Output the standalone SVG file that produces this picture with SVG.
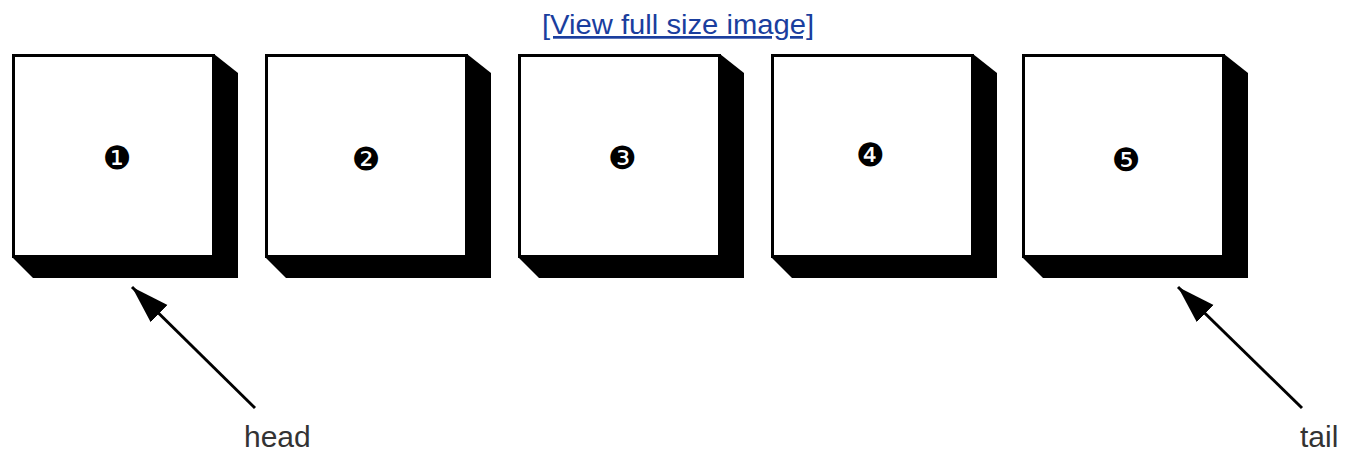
<svg xmlns="http://www.w3.org/2000/svg" width="1346" height="455" viewBox="0 0 1346 455">
<style>
.face{fill:#fff;stroke:#000;stroke-width:3}
.shadow{fill:#000}
.num{font-family:"DejaVu Sans",sans-serif;font-size:32px;text-anchor:middle;fill:#000}
.lbl{font-family:"Liberation Sans",Arial,sans-serif;font-size:30px;fill:#333}
.link{font-family:"Liberation Sans",Arial,sans-serif;font-size:27px;fill:#1a3e9e;text-decoration:underline;text-anchor:middle}
.conn{stroke:#000;stroke-width:3;fill:none}
</style>
<defs>
<marker id="ah" markerUnits="userSpaceOnUse" viewBox="0 -13 40 26" refX="38" refY="0" markerWidth="40" markerHeight="26" orient="auto">
<path d="M0,-12 L38,0 L0,12 Z" fill="#000"/>
</marker>
</defs>
<rect width="1346" height="455" fill="#fff"/>
<text class="link" x="678" y="34" textLength="272" lengthAdjust="spacingAndGlyphs">[View full size image]</text>
<g id="node1">
<polygon class="shadow" points="214,54 238,73 238,278 33,278 12,257"/>
<rect class="face" x="13.5" y="55.5" width="200" height="201"/>
<text class="num" x="117" y="169">❶</text>
</g>
<g id="node2">
<polygon class="shadow" points="467,54 491,73 491,278 286,278 265,257"/>
<rect class="face" x="266.5" y="55.5" width="200" height="201"/>
<text class="num" x="366" y="170">❷</text>
</g>
<g id="node3">
<polygon class="shadow" points="720,54 744,73 744,278 539,278 518,257"/>
<rect class="face" x="519.5" y="55.5" width="200" height="201"/>
<text class="num" x="622" y="169">❸</text>
</g>
<g id="node4">
<polygon class="shadow" points="973,54 997,73 997,278 792,278 771,257"/>
<rect class="face" x="772.5" y="55.5" width="200" height="201"/>
<text class="num" x="870" y="166">❹</text>
</g>
<g id="node5">
<polygon class="shadow" points="1224,54 1248,73 1248,278 1043,278 1022,257"/>
<rect class="face" x="1023.5" y="55.5" width="200" height="201"/>
<text class="num" x="1126" y="171">❺</text>
</g>
<g id="connectors">
<line class="conn" x1="255" y1="408" x2="132" y2="287" marker-end="url(#ah)"/>
<line class="conn" x1="1302" y1="408" x2="1178" y2="287" marker-end="url(#ah)"/>
</g>
<text class="lbl" x="244" y="447">head</text>
<text class="lbl" x="1300" y="447">tail</text>
</svg>
